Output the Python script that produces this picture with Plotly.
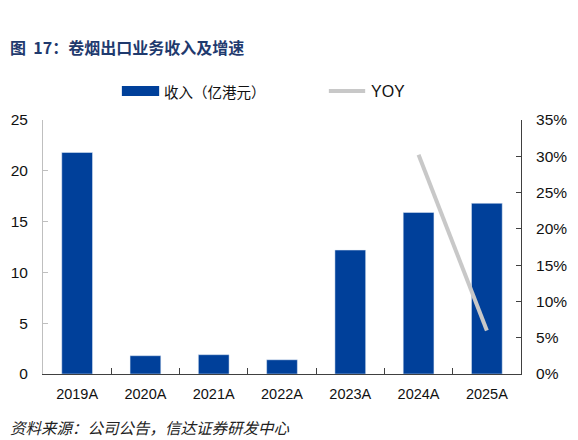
import plotly.graph_objects as go

# Data.
years = ['2019A', '2020A', '2021A', '2022A', '2023A', '2024A', '2025A']
revenue = [21.8, 1.8, 1.9, 1.4, 12.2, 15.9, 16.8]
yoy = [None, None, None, None, None, 0.302, 0.06]

blue = '#00409A'
grey = '#C8C8C8'
font = 'Liberation Sans, Arial, Noto Sans CJK SC, sans-serif'
cjk = 'Noto Sans CJK SC, sans-serif'

fig = go.Figure()
fig.add_trace(go.Bar(x=years, y=revenue, name='收入（亿港元）',
                     marker_color=blue, width=0.45))
fig.add_trace(go.Scatter(x=years, y=yoy, name='YOY', mode='lines',
                         line=dict(color=grey, width=4), yaxis='y2'))

# The page body adds an 8px margin, so the figure is 8px smaller each way.
fig.update_layout(
    width=570, height=432,
    margin=dict(l=35, r=57, t=112, b=66, autoexpand=False),
    plot_bgcolor='white', paper_bgcolor='white',
    font=dict(family=font, size=14, color='#111111'),
    showlegend=False,
    xaxis=dict(showline=True, linecolor='#404040', ticks='inside', ticklen=6,
               tickson='boundaries', tickcolor='#404040', showgrid=False,
               tickfont=dict(size=14.5), automargin=False, ticklabelstandoff=7),
    yaxis=dict(range=[0, 25], dtick=5, showline=True, linecolor='#BFBFBF',
               ticks='inside', ticklen=5, tickcolor='#BFBFBF', showgrid=False,
               zeroline=False, tickfont=dict(size=15.5), automargin=False,
               ticklabelstandoff=11),
    yaxis2=dict(range=[0, 0.35], dtick=0.05, tickformat='.0%', overlaying='y',
                side='right', showline=True, linecolor='#404040', ticks='inside',
                ticklen=5, tickcolor='#404040', showgrid=False, zeroline=False,
                tickfont=dict(size=15.5), automargin=False, ticklabelstandoff=11),
)

# Hand-drawn legend to match the wide swatches of the original.
fig.add_shape(type='rect', xref='paper', yref='paper', x0=0.165, x1=0.243,
              y0=1.094, y1=1.134, fillcolor=blue, line=dict(width=0))
fig.add_annotation(text='收入（亿港元）', xref='paper', yref='paper', x=0.249, y=1.114,
                   xanchor='left', yanchor='middle', showarrow=False,
                   font=dict(size=14.5, family=cjk, color='#111111'))
fig.add_shape(type='line', xref='paper', yref='paper', x0=0.598, x1=0.674,
              y0=1.114, y1=1.114, line=dict(color=grey, width=4))
fig.add_annotation(text='YOY', xref='paper', yref='paper', x=0.682, y=1.114,
                   xanchor='left', yanchor='middle', showarrow=False,
                   font=dict(size=16, family=font, color='#111111'))

fig.add_annotation(text='<b>图  17：卷烟出口业务收入及增速</b>', xref='paper', yref='paper',
                   x=-0.073, y=1.287, xanchor='left', yanchor='middle', showarrow=False,
                   font=dict(size=16, color='#1F3A6E', family=cjk))
fig.add_annotation(text='<i>资料来源：公司公告，信达证券研发中心</i>', xref='paper', yref='paper',
                   x=-0.073, y=-0.209, xanchor='left', yanchor='middle', showarrow=False,
                   font=dict(size=15.5, color='#222222', family=cjk))

fig.write_html('out.html')
